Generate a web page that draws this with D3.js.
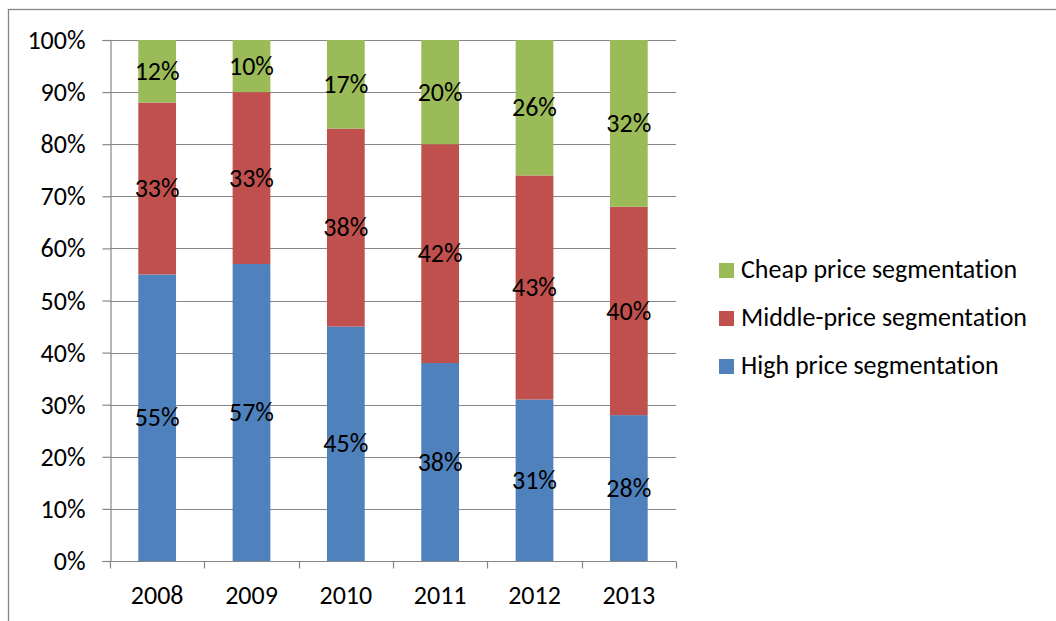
<!DOCTYPE html>
<html>
<head>
<meta charset="utf-8">
<script src="https://cdn.jsdelivr.net/npm/d3@7"></script>
<style>
  html, body { margin: 0; padding: 0; background: #fff; }
  svg { display: block; }
  text { font-family: Carlito, Calibri, "Open Sans", sans-serif; fill: #000; font-variant-ligatures: none; }
</style>
</head>
<body>
<svg id="chart" width="1056" height="621"></svg>
<script>
// Market share by price segment, 2008-2013 (percent of total)
const years = ["2008", "2009", "2010", "2011", "2012", "2013"];
const highPrice = [55, 57, 45, 38, 31, 28];
const middlePrice = [33, 33, 38, 42, 43, 40];
const cheapPrice = [12, 10, 17, 20, 26, 32];
const seriesNames = ["High price segmentation", "Middle-price segmentation", "Cheap price segmentation"];
const seriesColors = ["#4f81bd", "#c0504d", "#9bbb59"];
const yTicks = [0, 10, 20, 30, 40, 50, 60, 70, 80, 90, 100];

const rows = years.map((yr, i) => ({ year: yr, high: highPrice[i], middle: middlePrice[i], cheap: cheapPrice[i] }));
const keys = ["high", "middle", "cheap"];
const stacked = d3.stack().keys(keys)(rows);

const svg = d3.select("#chart");
const plotLeft = 110, plotRight = 676, plotTop = 40, plotBottom = 561;
const fontSize = 26;
const fontStack = "Carlito, Calibri, 'Open Sans', sans-serif";

// outer chart frame
svg.append("rect")
  .attr("x", 8.5).attr("y", 9.5).attr("width", 1100).attr("height", 700)
  .attr("fill", "none").attr("stroke", "#868686").attr("stroke-width", 1.3);

const x = d3.scaleBand().domain(years).range([plotLeft, plotRight]).paddingInner(0.6).paddingOuter(0.3);
const y = d3.scaleLinear().domain([0, 100]).range([plotBottom, plotTop]);
const gridColor = "#868686";

// horizontal gridlines
svg.append("g").selectAll("line").data(yTicks.filter(t => t > 0)).join("line")
  .attr("x1", plotLeft).attr("x2", plotRight)
  .attr("y1", d => Math.round(y(d)) + 0.5).attr("y2", d => Math.round(y(d)) + 0.5)
  .attr("stroke", gridColor).attr("stroke-width", 1.2);

// stacked bars
const layer = svg.append("g").selectAll("g").data(stacked).join("g")
  .attr("fill", (d, i) => seriesColors[i]);
layer.selectAll("rect").data(d => d).join("rect")
  .attr("x", d => x(d.data.year))
  .attr("width", x.bandwidth())
  .attr("y", d => y(d[1]))
  .attr("height", d => y(d[0]) - y(d[1]));

// value labels centred in each segment
const labelG = svg.append("g");
stacked.forEach(s => {
  labelG.selectAll(null).data(s).join("text")
    .attr("x", d => x(d.data.year) + x.bandwidth() / 2)
    .attr("y", d => y((d[0] + d[1]) / 2))
    .attr("dy", "0.33em")
    .attr("text-anchor", "middle")
    .attr("font-size", fontSize)
    .text(d => (d[1] - d[0]) + "%");
});

// y axis
const yAxis = svg.append("g").attr("transform", `translate(${plotLeft + 0.5},0)`)
  .call(d3.axisLeft(y).tickValues(yTicks).tickFormat(d => d + "%").tickSize(8).tickPadding(17));
yAxis.select(".domain").attr("stroke", gridColor).attr("stroke-width", 1.2);
yAxis.selectAll(".tick line").attr("stroke", gridColor).attr("stroke-width", 1.2);
yAxis.selectAll(".tick text").attr("font-size", fontSize).attr("font-family", fontStack)
  .attr("dy", "0.33em").attr("fill", "#000");

// x axis with tick marks between categories
const xAxisG = svg.append("g").attr("transform", `translate(0,${plotBottom + 0.5})`);
xAxisG.append("line").attr("x1", plotLeft).attr("x2", plotRight)
  .attr("stroke", gridColor).attr("stroke-width", 1.2);
const step = x.step();
const boundaries = d3.range(years.length + 1).map(i => plotLeft + i * step);
xAxisG.selectAll("line.tk").data(boundaries).join("line").attr("class", "tk")
  .attr("x1", d => Math.round(d) + 0.5).attr("x2", d => Math.round(d) + 0.5)
  .attr("y1", 0).attr("y2", 7)
  .attr("stroke", gridColor).attr("stroke-width", 1.2);
xAxisG.selectAll("text").data(years).join("text")
  .attr("x", d => x(d) + x.bandwidth() / 2)
  .attr("y", 42)
  .attr("text-anchor", "middle")
  .attr("font-size", fontSize)
  .text(d => d);

// legend, listed top-down as Cheap, Middle, High
const legendItems = [2, 1, 0];
const legend = svg.append("g").selectAll("g").data(legendItems).join("g")
  .attr("transform", (d, i) => `translate(719,${263 + i * 48})`);
legend.append("rect").attr("width", 15).attr("height", 15).attr("fill", d => seriesColors[d]);
legend.append("text").attr("x", 22).attr("y", 15)
  .attr("font-size", fontSize).text(d => seriesNames[d]);
</script>
</body>
</html>
